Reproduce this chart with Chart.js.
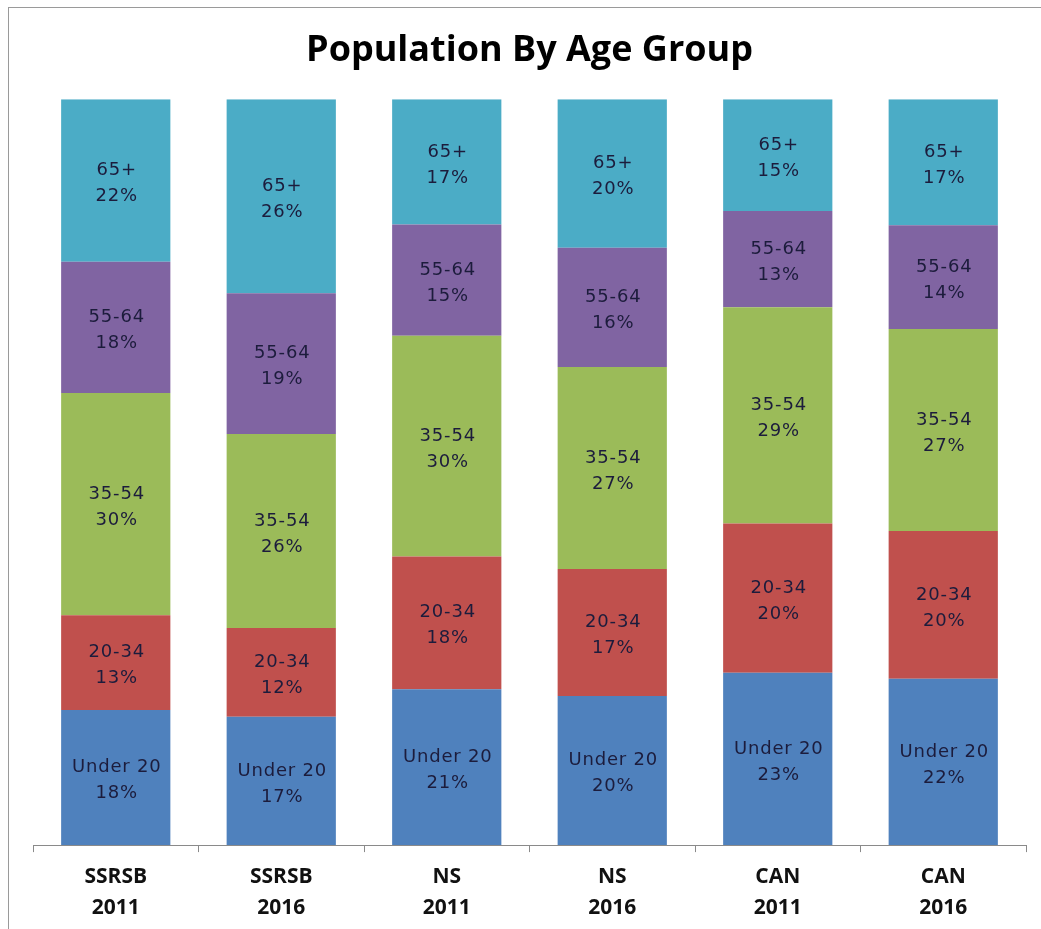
<!DOCTYPE html>
<html>
<head>
<meta charset="utf-8">
<script src="https://cdn.jsdelivr.net/npm/chart.js@4"></script>
<style>
  html, body { margin: 0; padding: 0; background: #fff; }
  #wrap { position: relative; width: 1041px; height: 929px; overflow: hidden; }
  #frame { position: absolute; left: 8px; top: 7px; width: 1040px; height: 930px; border: 1px solid #9a9a9a; box-sizing: border-box; pointer-events: none; }
</style>
</head>
<body>
<div id="wrap">
  <canvas id="myChart" width="1041" height="929"></canvas>
  <div id="frame"></div>
</div>
<script>
// categories, two lines each
var categories = [['SSRSB', '2011'], ['SSRSB', '2016'], ['NS', '2011'], ['NS', '2016'], ['CAN', '2011'], ['CAN', '2016']];

// age group shares (%)
var under20  = [18.1, 17.2, 20.9, 20.0, 23.1, 22.3];
var age20_34 = [12.7, 11.9, 17.8, 17.0, 20.0, 19.8];
var age35_54 = [29.8, 26.0, 29.6, 27.1, 29.0, 27.1];
var age55_64 = [17.6, 18.9, 14.9, 16.0, 12.9, 13.9];
var age65    = [21.8, 26.0, 16.8, 19.9, 15.0, 16.9];

const data = {
  labels: categories,
  datasets: [
    { label: 'Under 20', backgroundColor: '#4F81BD', data: under20 },
    { label: '20-34', backgroundColor: '#C0504D', data: age20_34 },
    { label: '35-54', backgroundColor: '#9BBB59', data: age35_54 },
    { label: '55-64', backgroundColor: '#8064A2', data: age55_64 },
    { label: '65+', backgroundColor: '#4BACC6', data: age65 }
  ]
};

// label inside each segment: group name + rounded percent
const segLabels = {
  id: 'segLabels',
  afterDatasetsDraw(chart) {
    const ctx = chart.ctx;
    ctx.save();
    ctx.font = '18px "DejaVu Sans", sans-serif';
    ctx.letterSpacing = '0.8px';
    ctx.fillStyle = '#1c1c3c';
    ctx.textAlign = 'center';
    ctx.textBaseline = 'middle';
    chart.data.datasets.forEach(function(ds, i) {
      chart.getDatasetMeta(i).data.forEach(function(bar, j) {
        var mid = (bar.y + bar.base) / 2 + 3;
        ctx.fillText(ds.label, bar.x + 1, mid - 13);
        ctx.fillText(Math.round(ds.data[j]) + '%', bar.x + 1, mid + 13);
      });
    });
    ctx.restore();
  }
};

const config = {
  type: 'bar',
  data: data,
  options: {
    responsive: false,
    animation: false,
    layout: { padding: { left: 33, right: 15, top: 0, bottom: -4 } },
    datasets: { bar: { categoryPercentage: 1, barPercentage: 0.66 } },
    scales: {
      x: {
        stacked: true,
        grid: { offset: true, drawOnChartArea: false, drawTicks: true, tickLength: 7, color: '#8a8a8a' },
        border: { color: '#8a8a8a', width: 1 },
        ticks: {
          color: '#111',
          padding: 10,
          maxRotation: 0,
          font: { family: '"Open Sans", "Noto Sans", sans-serif', size: 21, weight: 'bold', lineHeight: 1.45 }
        }
      },
      y: { stacked: true, display: false, min: 0, max: 100 }
    },
    plugins: {
      legend: { display: false },
      tooltip: { enabled: false },
      title: {
        display: true,
        text: 'Population By Age Group',
        color: '#000',
        font: { family: '"Open Sans", "Noto Sans", sans-serif', size: 36, weight: 'bold', lineHeight: 1.2 },
        padding: { top: 29, bottom: 27 }
      }
    }
  },
  plugins: [segLabels]
};

const myChart = new Chart(document.getElementById('myChart'), config);
</script>
</body>
</html>
